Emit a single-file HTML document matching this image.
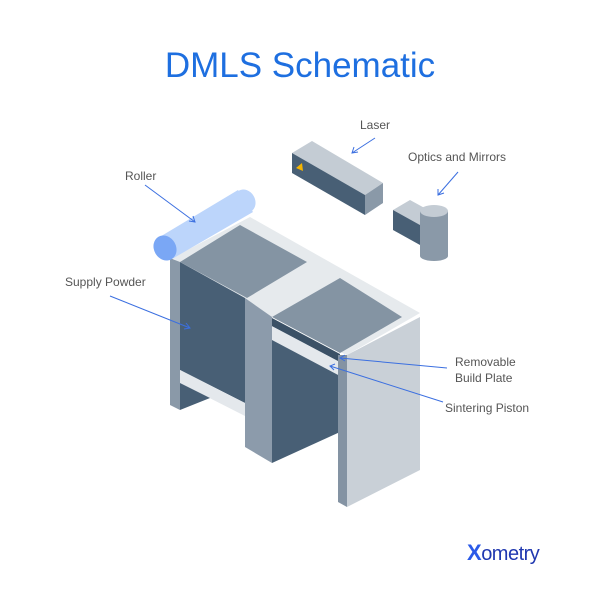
<!DOCTYPE html>
<html><head><meta charset="utf-8"><style>
html,body{margin:0;padding:0;background:#fff;}
svg{display:block;}
text{font-family:"Liberation Sans",sans-serif;}
</style></head><body>
<svg width="600" height="600" viewBox="0 0 600 600" xmlns="http://www.w3.org/2000/svg">
<text x="300" y="77" text-anchor="middle" font-size="35" fill="#1e6fe0">DMLS Schematic</text>
<!-- light top frame -->
<polygon points="172,258 250,217 420,313 347,355 340,352 272,317 272,318 245,298" fill="#e6eaed"/>
<!-- left pillar side -->
<polygon points="170,258 180,262 180,410 170,405" fill="#8a99a8"/>
<!-- supply front dark -->
<polygon points="180,262 245,298 245,403 180,370" fill="#485f75"/>
<!-- piston band -->
<polygon points="180,370 245,403 245,416 180,383" fill="#e4e8ec"/>
<polygon points="180,383 210,398 180,410" fill="#485f75"/>
<!-- supply top -->
<polygon points="180,262 240,225 307,262 247,298" fill="#8494a3"/>
<!-- middle pillar -->
<polygon points="245,298 272,317 272,463 245,447" fill="#8c9bab"/>
<!-- build chamber front -->
<polygon points="272,320 340,356 340,432 272,463" fill="#485f75"/>
<!-- build plate -->
<polygon points="272,326 340,362 340,376 272,340" fill="#e4e8ec"/>
<polygon points="272,318 340,354 340,362 272,326" fill="#3b5166"/>
<!-- build top -->
<polygon points="272,317 340,278 402,317 340,353" fill="#8494a3"/>
<!-- right pillar -->
<polygon points="338,355 347,355 347,507 338,502" fill="#8493a3"/>
<polygon points="347,355 420,317 420,470 347,507" fill="#c9d0d7"/>
<!-- roller -->
<polygon points="158,238 238,190 253,212 172,259" fill="#bcd5fb"/>
<ellipse cx="245" cy="201" rx="10" ry="12" fill="#bcd5fb" transform="rotate(-30 245 201)"/>
<ellipse cx="165" cy="248" rx="11" ry="13" fill="#7aa7f5" transform="rotate(-30 165 248)"/>
<!-- laser -->
<polygon points="292,153 312,141 383,183 365,195" fill="#c4ccd4"/>
<polygon points="292,153 365,195 365,215 292,173" fill="#485f75"/>
<polygon points="365,195 383,183 383,203 365,215" fill="#8a99a8"/>
<polygon points="296,168 302,163 303,171" fill="#f5b400"/>
<!-- optics -->
<polygon points="393,210 410,200 430,211 420,225" fill="#c4ccd4"/>
<polygon points="393,210 420,225 420,245 393,230" fill="#485f75"/>
<rect x="420" y="211" width="28" height="45" fill="#8a99a8"/>
<ellipse cx="434" cy="256" rx="14" ry="5" fill="#8a99a8"/>
<ellipse cx="434" cy="211" rx="14" ry="6" fill="#c4ccd4"/>
<!-- labels -->
<g font-size="12" fill="#555">
<text x="360" y="129">Laser</text>
<text x="408" y="161">Optics and Mirrors</text>
<text x="125" y="180">Roller</text>
<text x="65" y="286">Supply Powder</text>
<text x="455" y="366">Removable</text>
<text x="455" y="382">Build Plate</text>
<text x="445" y="412">Sintering Piston</text>
</g>
<g stroke="#3b6fe0" stroke-width="1" fill="none">
<line x1="375" y1="138" x2="352" y2="153"/><polyline points="354,147 352,153 358,152"/>
<line x1="458" y1="172" x2="438" y2="195"/><polyline points="438,189 438,195 444,193"/>
<line x1="145" y1="185" x2="195" y2="222"/><polyline points="189,221 195,222 193,216"/>
<line x1="110" y1="296" x2="190" y2="328"/><polyline points="184,329 190,328 186,323"/>
<line x1="447" y1="368" x2="340" y2="358"/><polyline points="345,355 340,358 345,361"/>
<line x1="443" y1="402" x2="330" y2="366"/><polyline points="335,364 330,366 334,370"/>
</g>
<text x="467" y="560" font-size="20" font-weight="bold" fill="#1a3fc0" letter-spacing="-0.5"><tspan fill="#2a5ae8" font-size="22">X</tspan><tspan font-weight="normal" fill="#2038b0">ometry</tspan></text>
</svg>
</body></html>
